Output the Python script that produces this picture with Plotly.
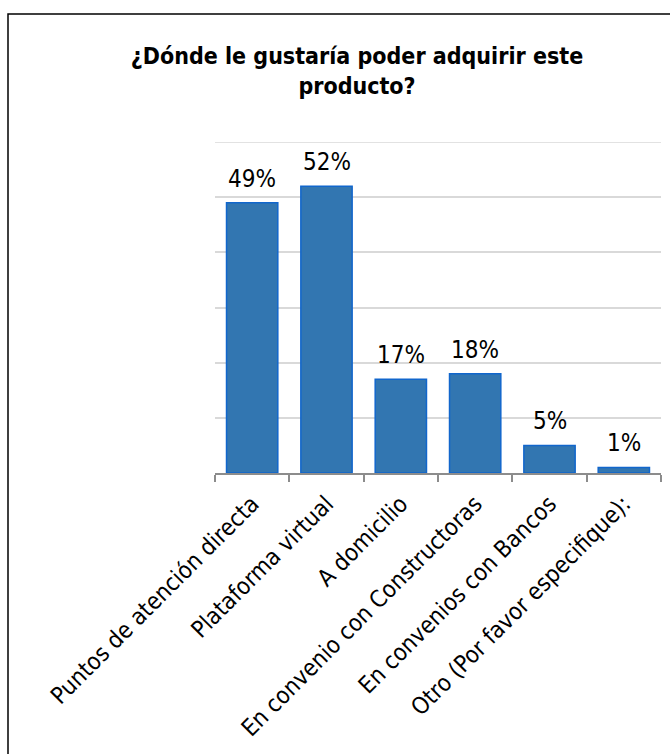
import plotly.graph_objects as go

# Survey responses: where respondents would like to buy the product
categories = [
    "Puntos de atención directa",
    "Plataforma virtual",
    "A domicilio",
    "En convenio con Constructoras",
    "En convenios con Bancos",
    "Otro (Por favor especifique):",
]
percentages = [49, 52, 17, 18, 5, 1]

title_text = "¿Dónde le gustaría poder adquirir este<br>producto?"

FONT = "DejaVu Sans Condensed, DejaVu Sans, sans-serif"

W, H = 670, 754
L, R, T, B = 215, 9, 142, 281
plot_h = H - T - B


def px_to_paper_y(py):
    return (H - B - py) / plot_h


def px_to_paper_x(px):
    return (px - L) / (W - L - R)


fig = go.Figure(
    go.Bar(
        x=categories,
        y=percentages,
        marker=dict(color="#3276b1", line=dict(color="#1166cc", width=1.5)),
        hoverinfo="skip",
    )
)

# value labels above each bar
for cat, val in zip(categories, percentages):
    fig.add_annotation(
        x=cat, y=val, text=f"{val}%", showarrow=False,
        yanchor="bottom", yshift=8,
        font=dict(family=FONT, size=24, color="#000000"),
    )

# top gridline at the 60% ceiling
fig.add_shape(
    type="line", xref="paper", yref="y",
    x0=0, x1=1, y0=60, y1=60,
    line=dict(color="#d9d9d9", width=1.5), layer="below",
)

# frame around the chart area (top and left edges visible)
fig.add_shape(
    type="rect", xref="paper", yref="paper",
    x0=px_to_paper_x(8), x1=px_to_paper_x(720),
    y0=px_to_paper_y(820), y1=px_to_paper_y(14),
    line=dict(color="#000000", width=1.5), fillcolor="rgba(0,0,0,0)",
    layer="above",
)

fig.update_layout(
    width=W, height=H,
    margin=dict(l=L, r=R, t=T, b=B, autoexpand=False),
    paper_bgcolor="#ffffff", plot_bgcolor="#ffffff",
    bargap=0.31,
    showlegend=False,
    title=dict(
        text=title_text,
        x=357 / W, xanchor="center", xref="container",
        y=1 - 64 / H, yanchor="top", yref="container",
        font=dict(family=FONT, size=23, color="#000000", weight="bold"),
    ),
    xaxis=dict(
        type="category",
        showline=True, linecolor="#8c8c8c", linewidth=1.5,
        ticks="outside", ticklen=7, tickcolor="#8c8c8c", tickwidth=1.5,
        tickson="boundaries",
        tickangle=-45,
        ticklabelstandoff=6,
        tickfont=dict(family=FONT, size=23.5, color="#000000"),
        showgrid=False, zeroline=False,
    ),
    yaxis=dict(
        range=[0, 60], dtick=10,
        showgrid=True, gridcolor="#d9d9d9", gridwidth=1.5,
        showticklabels=False, showline=False, zeroline=False, ticks="",
    ),
)

fig.write_html("out.html")
